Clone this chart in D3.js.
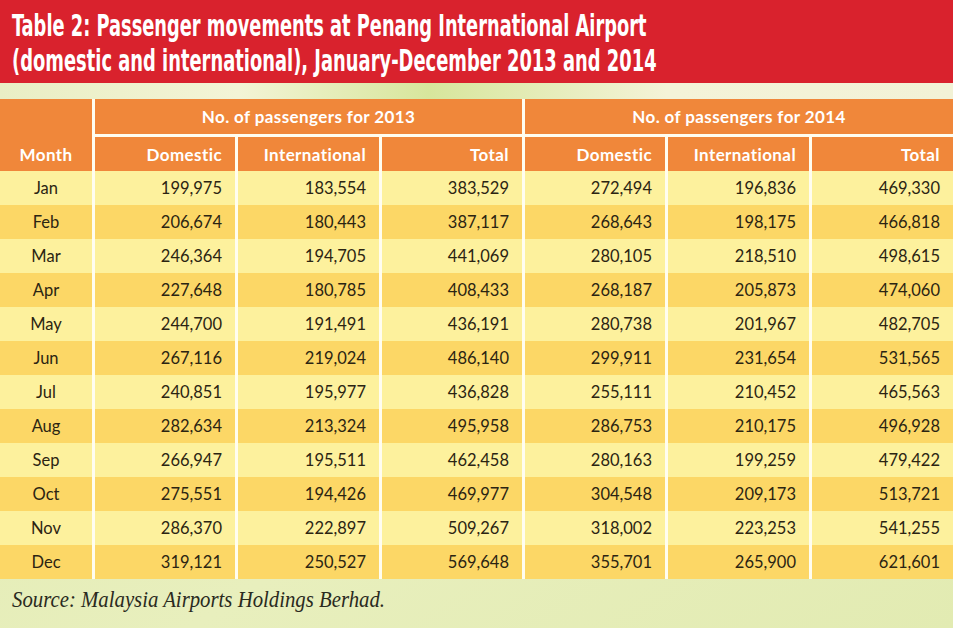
<!DOCTYPE html>
<html>
<head>
<meta charset="utf-8">
<script src="https://cdn.jsdelivr.net/npm/d3@7"></script>
<style>
html,body{margin:0;padding:0;background:#e6eeb9;}
svg{display:block;}
</style>
</head>
<body>
<svg id="chart" width="953" height="628"></svg>
<script>
// ---- data ----
const titleLines = [
  "Table 2: Passenger movements at Penang International Airport",
  "(domestic and international), January-December 2013 and 2014"
];
const groupHeaders = ["No. of passengers for 2013", "No. of passengers for 2014"];
const subHeaders = ["Domestic", "International", "Total", "Domestic", "International", "Total"];
const months = ["Jan","Feb","Mar","Apr","May","Jun","Jul","Aug","Sep","Oct","Nov","Dec"];
const domestic2013 = [199975,206674,246364,227648,244700,267116,240851,282634,266947,275551,286370,319121];
const international2013 = [183554,180443,194705,180785,191491,219024,195977,213324,195511,194426,222897,250527];
const total2013 = [383529,387117,441069,408433,436191,486140,436828,495958,462458,469977,509267,569648];
const domestic2014 = [272494,268643,280105,268187,280738,299911,255111,286753,280163,304548,318002,355701];
const international2014 = [196836,198175,218510,205873,201967,231654,210452,210175,199259,209173,223253,265900];
const total2014 = [469330,466818,498615,474060,482705,531565,465563,496928,479422,513721,541255,621601];
const sourceText = "Source: Malaysia Airports Holdings Berhad.";

const seriesCols = [domestic2013, international2013, total2013, domestic2014, international2014, total2014];

// ---- layout ----
const W = 953, H = 628;
const svg = d3.select("#chart");
const fmt = d3.format(",");

// background
const defs = svg.append("defs");
const bg = defs.append("linearGradient").attr("id","bg").attr("x1","0").attr("y1","0").attr("x2","1").attr("y2","1");
bg.append("stop").attr("offset","0%").attr("stop-color","#dfe9ad");
bg.append("stop").attr("offset","60%").attr("stop-color","#e8efbd");
bg.append("stop").attr("offset","100%").attr("stop-color","#e2ebb2");
svg.append("rect").attr("width",W).attr("height",H).attr("fill","url(#bg)");

const strip = defs.append("linearGradient").attr("id","strip").attr("x1","0").attr("x2","1");
strip.append("stop").attr("offset","0%").attr("stop-color","#e9eec4");
strip.append("stop").attr("offset","25%").attr("stop-color","#f3f4d6");
strip.append("stop").attr("offset","45%").attr("stop-color","#d7e69c");
strip.append("stop").attr("offset","70%").attr("stop-color","#f4f3d8");
strip.append("stop").attr("offset","100%").attr("stop-color","#f2f2d6");
svg.append("rect").attr("x",0).attr("y",83).attr("width",W).attr("height",17).attr("fill","url(#strip)");

// title band
svg.append("rect").attr("x",0).attr("y",0).attr("width",W).attr("height",83).attr("fill","#d9222d");
const titleWidths = [635, 645];
svg.selectAll("text.title").data(titleLines).join("text")
  .attr("class","title")
  .attr("x", 0)
  .attr("y", 0)
  .attr("fill","#fff")
  .attr("font-family","'Liberation Sans Narrow','DejaVu Sans Condensed','Roboto',sans-serif")
  .attr("font-weight","bold")
  .attr("font-size", 31)
  .text(d => d)
  .each(function(d,i){
    const L = this.getComputedTextLength() || titleWidths[i];
    const sx = titleWidths[i] / L;
    d3.select(this).attr("transform", `translate(12,${36 + i*35}) scale(${sx},1)`);
  });

// column geometry
const colEdges = [0, 95, 238, 382, 525, 668, 812, 953];
const gap = 3;
const colX = i => colEdges[i];
const colW = i => colEdges[i+1] - colEdges[i] - (i < 6 ? gap : 0);

const headTop = 99, head1H = 35, head2Top = 137, headBottom = 171;
const y = d3.scaleBand().domain(d3.range(months.length)).range([headBottom, 579]).padding(0);

const orange = "#f0873a";
const light = "#fdf19d", dark = "#fcd766";
const headFont = "Lato, 'Open Sans', sans-serif";

// white grid backing (separators)
svg.append("rect").attr("x",0).attr("y",headTop).attr("width",W).attr("height",579-headTop).attr("fill","#fffdf0");

// header cells
const headG = svg.append("g");
headG.append("rect").attr("x",colX(0)).attr("y",headTop).attr("width",colW(0)).attr("height",headBottom-headTop).attr("fill",orange);
groupHeaders.forEach((g,k) => {
  const x0 = colX(1+3*k), x1 = colEdges[4+3*k] - (k===0?gap:0);
  headG.append("rect").attr("x",x0).attr("y",headTop).attr("width",x1-x0).attr("height",head1H).attr("fill",orange);
  headG.append("text").attr("x",(x0+x1)/2).attr("y",headTop+24)
    .attr("text-anchor","middle").attr("fill","#fff")
    .attr("font-family",headFont).attr("font-weight","bold").attr("font-size",17)
    .attr("letter-spacing",0.4)
    .text(g);
});
subHeaders.forEach((s,i) => {
  headG.append("rect").attr("x",colX(i+1)).attr("y",head2Top).attr("width",colW(i+1)).attr("height",headBottom-head2Top).attr("fill",orange);
  headG.append("text").attr("x",colX(i+1)+colW(i+1)-13).attr("y",head2Top+24)
    .attr("text-anchor","end").attr("fill","#fff")
    .attr("font-family",headFont).attr("font-weight","bold").attr("font-size",17)
    .attr("letter-spacing",0.4)
    .text(s);
});
headG.append("text").attr("x",colX(0)+colW(0)/2).attr("y",head2Top+24)
  .attr("text-anchor","middle").attr("fill","#fff")
  .attr("font-family",headFont).attr("font-weight","bold").attr("font-size",17)
  .attr("letter-spacing",0.4)
  .text("Month");

// body rows
const rows = svg.append("g").selectAll("g.row").data(months).join("g")
  .attr("class","row")
  .attr("transform",(d,i)=>`translate(0,${y(i)})`);

d3.range(7).forEach(c => {
  rows.append("rect").attr("x",colX(c)).attr("y",0).attr("width",colW(c)).attr("height",y.bandwidth())
    .attr("fill",(d,i)=> i%2===0 ? light : dark);
});
rows.append("text").attr("x",colX(0)+colW(0)/2).attr("y",y.bandwidth()/2+6)
  .attr("text-anchor","middle").attr("fill","#2b2412")
  .attr("font-family",headFont).attr("font-size",16.5)
  .text(d=>d);
seriesCols.forEach((arr,c) => {
  rows.append("text").attr("x",colX(c+1)+colW(c+1)-13).attr("y",y.bandwidth()/2+6)
    .attr("text-anchor","end").attr("fill","#2b2412")
    .attr("font-family",headFont).attr("font-size",16.5)
    .text((d,i)=>fmt(arr[i]));
});

// source
svg.append("text").attr("x",12).attr("y",607)
  .attr("fill","#2a2a1e")
  .attr("font-family","'Liberation Serif','DejaVu Serif',serif").attr("font-style","italic").attr("font-size",23)
  .attr("textLength",373).attr("lengthAdjust","spacingAndGlyphs")
  .text(sourceText);
</script>
</body>
</html>
